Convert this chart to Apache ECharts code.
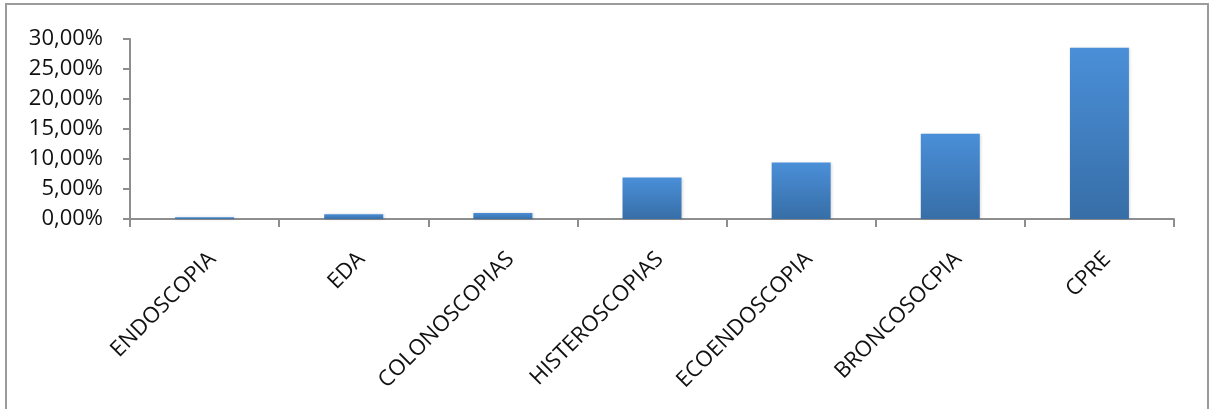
<!DOCTYPE html>
<html>
<head>
<meta charset="utf-8">
<script src="https://cdn.jsdelivr.net/npm/echarts@6/dist/echarts.min.js"></script>
<style>
  html, body { margin: 0; padding: 0; background: #ffffff; }
  #chart { width: 1210px; height: 409px; }
</style>
</head>
<body>
<div id="chart"></div>
<script>
// Procedimientos y su porcentaje
const categories = ['ENDOSCOPIA', 'EDA', 'COLONOSCOPIAS', 'HISTEROSCOPIAS', 'ECOENDOSCOPIA', 'BRONCOSOCPIA', 'CPRE'];
const percentages = [0.3, 0.8, 1.0, 6.9, 9.4, 14.2, 28.55];
const yTicks = { min: 0, max: 30, interval: 5 };

const axisGrey = '#8e8e8e';
const fmtPct = v => v.toFixed(2).replace('.', ',') + '%';

const chart = echarts.init(document.getElementById('chart'), null, { renderer: 'canvas' });
chart.setOption({
  animation: false,
  backgroundColor: '#ffffff',
  graphic: [{
    type: 'rect',
    shape: { x: 6, y: 4, width: 1202, height: 430 },
    style: { fill: 'none', stroke: '#9b9b9b', lineWidth: 2 },
    silent: true,
    z: 0
  }],
  grid: { left: 130, right: 36, top: 39, bottom: 190, containLabel: false },
  xAxis: {
    type: 'category',
    data: categories,
    boundaryGap: true,
    axisLine: { lineStyle: { color: axisGrey, width: 2 } },
    axisTick: { show: true, alignWithLabel: false, length: 8, lineStyle: { color: axisGrey, width: 2 } },
    axisLabel: {
      interval: 0,
      rotate: 45,
      align: 'right',
      verticalAlign: 'top',
      margin: 29,
      color: '#111111',
      fontFamily: 'Open Sans',
      fontSize: 22
    },
    splitLine: { show: false }
  },
  yAxis: {
    type: 'value',
    min: yTicks.min,
    max: yTicks.max,
    interval: yTicks.interval,
    axisLine: { show: true, lineStyle: { color: axisGrey, width: 2 } },
    axisTick: { show: true, length: 7, lineStyle: { color: axisGrey, width: 2 } },
    axisLabel: {
      formatter: fmtPct,
      margin: 27,
      color: '#111111',
      fontFamily: 'Open Sans',
      fontSize: 22
    },
    splitLine: { show: false }
  },
  series: [{
    type: 'bar',
    data: percentages,
    barWidth: 59,
    itemStyle: {
      color: new echarts.graphic.LinearGradient(0, 0, 0, 1, [
        { offset: 0, color: '#4a8fd8' },
        { offset: 1, color: '#376ea7' }
      ]),
      shadowColor: 'rgba(0,0,0,0.18)',
      shadowBlur: 3,
      shadowOffsetX: 1,
      shadowOffsetY: 0
    }
  }]
});
</script>
</body>
</html>
